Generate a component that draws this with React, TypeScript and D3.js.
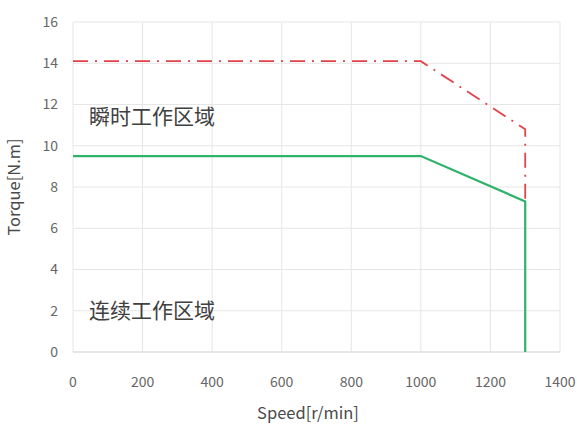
import React from "react";
import * as d3 from "d3";

const xTicks = [0, 200, 400, 600, 800, 1000, 1200, 1400];
const yTicks = [0, 2, 4, 6, 8, 10, 12, 14, 16];
const contSpeed = [0, 1000, 1300, 1300];
const contTorque = [9.5, 9.5, 7.3, 0];
const peakSpeed = [0, 1000, 1300, 1300];
const peakTorque = [14.1, 14.1, 10.8, 7.3];
const regionLabels = ["瞬时工作区域", "连续工作区域"];
const regionY = [11.4, 2.0];
const xTitle = "Speed[r/min]";
const yTitle = "Torque[N.m]";

export default function App() {
  const W = 577, H = 424;
  const left = 73, right = 560, top = 22, bottom = 352;
  const x = d3.scaleLinear().domain([0, 1400]).range([left, right]);
  const y = d3.scaleLinear().domain([0, 16]).range([bottom, top]);
  const line = d3.line<[number, number]>().x(d => x(d[0])).y(d => y(d[1]));
  const cont = line(contSpeed.map((s, i) => [s, contTorque[i]] as [number, number]))!;
  const peak = line(peakSpeed.map((s, i) => [s, peakTorque[i]] as [number, number]))!;
  const font = "'Noto Sans CJK SC', 'Open Sans', sans-serif";
  return (
    <svg width={W} height={H} style={{ position: "absolute", left: 0, top: 0, background: "#fff" }} fontFamily={font}>
      <rect x={0} y={0} width={W} height={H} fill="#fff" />
      {yTicks.map(t => (
        <line key={"gy" + t} x1={left} x2={right} y1={y(t)} y2={y(t)} stroke="#e6e6e6" strokeWidth={1} />
      ))}
      {xTicks.map(t => (
        <line key={"gx" + t} x1={x(t)} x2={x(t)} y1={top} y2={bottom} stroke="#e6e6e6" strokeWidth={1} />
      ))}
      <line x1={left} x2={right} y1={bottom} y2={bottom} stroke="#d9d9d9" />
      {yTicks.map(t => (
        <text key={"ty" + t} x={left - 15} y={y(t)} dy="0.35em" textAnchor="end" fontSize={14} fill="#666">{t}</text>
      ))}
      {xTicks.map(t => (
        <text key={"tx" + t} x={x(t)} y={382} dy="0.35em" textAnchor="middle" fontSize={14} fill="#666">{t}</text>
      ))}
      <text x={308} y={419} textAnchor="middle" fontSize={16.5} fill="#4a4a4a">{xTitle}</text>
      <text transform={`translate(20, 187) rotate(-90)`} textAnchor="middle" fontSize={16.5} fill="#4a4a4a">{yTitle}</text>
      <path d={peak} fill="none" stroke="#e0444a" strokeWidth={1.8} strokeDasharray="15,7,2,7" />
      <path d={cont} fill="none" stroke="#2fb36a" strokeWidth={2.2} />
      {regionLabels.map((l, i) => (
        <text key={l} x={x(0) + 16} y={y(regionY[i])} dy="0.35em" fontSize={21} fill="#404040">{l}</text>
      ))}
    </svg>
  );
}
